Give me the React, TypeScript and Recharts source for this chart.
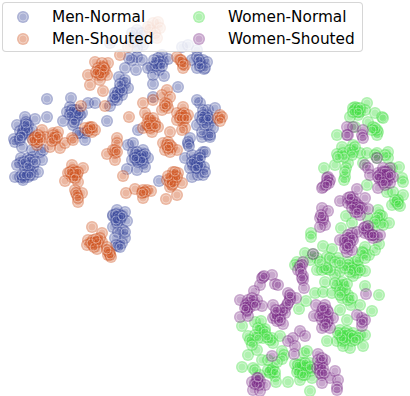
import { ScatterChart, Scatter, XAxis, YAxis } from "recharts";

type Pt = [number, number];

// t-SNE style embedding (arbitrary units)
const menNormal: Pt[] = [
  [-13.6,33.6],[-14.6,33],[-12.6,33],[-13.4,32],[-14.4,31.2],[-19,31],[-12.4,30.6],[-13.6,30],[-13.6,28.2],[-14.6,27.6],
  [-12.6,27.6],[-15.2,28],[-13.8,25.6],[-16,26],[-10.6,26.2],[-9.6,27],[-8.6,28.6],[-8.4,27.2],[-7.4,27.8],[-11.4,26],
  [-9.2,25.6],[-8.2,24.4],[-10.4,22.8],[-10.4,24.6],[-5.4,22.2],[-4.6,30.2],[-3.4,30.6],[-1.6,29.6],[-2.6,27.6],[-1.6,26],
  [-1,27],[-1.6,28.2],[-0.4,27.6],[-0.2,25.8],[0.4,27.2],[0,26],
  [-17.2,24.2],[-16,23],[-15.4,22],[-17,22],[-17.6,20.6],[-16.6,20.6],[-18.4,19.6],[-19,18.4],[-18,21],[-16,23.6],[-17.6,19.6],
  [-31.6,19.8],[-26.8,20],[-27,18.2],[-25.6,17.6],[-26.6,16.6],[-25.6,15.6],[-27.6,17.2],[-28.4,15.4],[-26.4,14.6],[-24.6,17],
  [-23.4,19],[-22,19],[-25,13],[-19.6,15.4],[-24,13],[-26,17.6],[-25,16.6],
  [-37.6,14.6],[-36,16.2],[-34,15.8],[-31.6,16.2],[-35.8,15.2],[-35.4,14.6],[-37,13.4],[-38.2,11.8],[-36.4,13],[-34.6,13.6],
  [-38,11.2],[-37,11.6],[-36,13],[-34.6,12],[-36.6,10.2],[-36.8,8],[-37,7],[-37.6,6.6],[-38,4.2],[-36.4,4],[-35.4,8],[-34.4,8.2],
  [-32.6,7.6],[-33,9.2],[-34.4,6.2],[-35,5.6],[-34.4,4.6],[-33.4,5.2],[-36,6],[-35.4,4.2],[-37,4.2],[-36.4,3.6],[-24,11.6],[-25.4,13],
  [-34.6,9.6],[-32.4,9.6],
  [-15.4,10.6],[-14.4,11],[-12.4,9.6],[-14.4,9.2],[-13.4,8.2],[-11.4,8],[-14.6,7.6],[-12.4,7],[-12,6.2],[-13.6,5.6],[-15.6,5.8],
  [-13,8],[-14,8.6],[-12.4,8.6],[-13.4,7.2],[-9.2,3.4],[-13.4,13.6],[-10.4,20.2],
  [-3.4,10.8],[-0.6,12.2],[-4,8],[-2.6,8.6],[-1.6,7.6],[-2.4,6.6],[-1.4,7],[-2.6,4.2],[-1.4,4.6],[-3,6],[-0.4,9.2],[-0.2,6.2],
  [-1.6,6],[-0.4,4.6],[-1,8.6],[0.6,12.6],[0,9.2],[0,5.2],[1,12.2],[0.6,17.6],[2,18],[0.4,16.6],[1.4,15.6],[0.6,14.6],[1.6,14],
  [1,12.6],[0,16.2],[-1,19],[-1.6,19.6],[-0.4,17.6],[-1,16.2],[-1.6,14.6],[-0.6,13.2],[-3,12],
  [-17.6,-2.4],[-16,-2.8],[-18.4,-3.6],[-17.6,-4],[-17,-4.4],[-15.6,-4.6],[-18.4,-5.8],[-16.4,-6.4],[-17.4,-6.8],[-16,-8],[-18,-8],
  [-17.4,-9.6],[-16.6,-9],[-17.6,-5],[-17,-3.4],[-16,-6.8],[-18.4,-3.4],
  // dense cores, where single points can no longer be told apart
  [-9.4,28],[-9,27.2],[-9.8,26.4],[-8.6,26.4],[-10.2,27.6],[-17.4,21.2],[-16.6,21.6],[-18,20.2],[-17,22.8],
  [-26.6,17.6],[-26,16],[-25.4,17],[-27,16.6],[-26.2,15.2],[-36.2,14],[-35.6,13.6],[-36.6,12.6],[-37,12],[-35.8,14.8],
  [-36.2,7.2],[-35,7.6],[-35.4,6.4],[-34,7.2],[-36.6,4.6],[-36,4.6],[-35,4.6],
  [-13.6,9.2],[-12.8,8.4],[-12,8.8],[-13.6,7.6],[-12.6,7.6],[-14,8],
  [-2,7.6],[-1.6,7],[-2.6,7.2],[-1,6.6],[-1.8,6],[-1,8],
  [-17.8,-3.2],[-17.4,-3.8],[-17,-4],[-17.8,-4.4],[-16.6,-3.6],[-17.8,-9.4],[-17,-9.8],
  [-0.4,16.6],[0.4,15.6],[0,14.6],[-0.6,15.6],[0.6,16],[-3.4,11.2],[-3.2,10.4],[-1.2,27.6],[-1,26.4],
];

const menShouted: Pt[] = [
  [-10.4,35],[-9.4,35.2],[-11,33.6],[-9,34],[-10,33],[-9.6,32],[-15.4,30.2],[-17,28.6],[-11.4,34.2],
  [-22,27.2],[-19.4,27],[-20.6,27],[-23.4,24.6],[-21,25.2],[-20,25.6],[-21.6,24.6],[-19.6,24.6],[-23,22.6],[-20.4,21.4],[-21,23.6],
  [-20.4,26.2],[-21.4,26],[-20,18.4],[-24.8,18.4],[-5.6,28.2],[-4.6,27.2],[-4,26.6],[-5,27.6],[-4.4,26],
  [-7.6,21.6],[-8.6,20.6],[-7,20.2],[-12.4,19],[-8,19],[-7.4,18],[-8.6,17.6],[-15.2,16.2],[-12,17],[-11,15.6],[-11.4,14.6],[-10,15],
  [-9.4,14.2],[-12.4,14],[-10.6,13.2],[-7,13.2],[-10.4,19.6],[-4.4,18.2],[-5.6,17],[-4.6,16.6],[-3.4,16.6],[-4.4,15.2],[-4,14],
  [-5.6,15.6],[-11,14],[-4.6,13.6],[-8.4,11],[-7.4,11.2],[-8,9.6],[-6.6,10.2],[-5.6,9.6],[-7,9.2],
  [-23,14.2],[-24,14],[-22.6,13.2],[-22,13.6],[-34,12.2],[-32.6,13.6],[-30.4,13],[-29.4,13.2],[-32,12.2],[-26.6,12],[-34,11.6],
  [-33,12.2],[-33.6,10.6],[-30,11.6],[-30.4,12.6],[-29,10],[-28,11],[-26.4,11.6],[-31,10.2],
  [-17.6,12],[-17.6,11],[-19.6,8.8],[-18,9],[-18,7.6],[-16.4,4.4],[-18.4,9.6],
  [-26.6,6.6],[-24.4,6],[-26,5.2],[-27.4,5],[-25.6,4.6],[-26.6,4.2],[-28,3.4],[-25.4,3.2],[-26,1.6],[-24.6,1],[-25.6,0.6],[-25.4,-0.8],
  [-15.8,1],[-14,1.8],[-12.4,1.2],[-11.6,1.6],[-10.8,1.4],[-12.4,0],
  [-6.4,5.2],[-5.4,5],[-7.6,3.6],[-6.4,3.6],[-4.6,3],[-7,2.2],[-5.6,0.6],[-7.8,-0.2],[-6.6,2.6],[-6,4.4],
  [-22.6,-5.8],[-20.6,-7],[-23.4,-8.4],[-22,-8.8],[-23.6,-9.4],[-22.4,-9.4],[-20.6,-8.8],[-21.6,-10.2],[-19.6,-9.8],[-19,-11],
  [-19.4,-11.4],[-18.8,-11.8],[-21,-8],[3,16.6],[2.6,16],[3.4,16.2],[3,15.4],
  // dense cores
  [-21,25.6],[-20.4,25.2],[-21.4,25],[-20.8,24.6],[-20.2,26],[-21.8,25.2],
  [-11.4,16],[-10.8,15],[-10.4,16],[-11.6,14.8],[-11.2,14.4],[-10,14.4],
  [-4.8,16.6],[-4.2,17],[-4.4,16],[-5,16],[-3.8,16],[-7.6,18.8],[-8,18.4],
  [-34,12],[-33.6,11.2],[-33,11.6],[-34.4,11.6],[-33.4,12.6],[-30,12],[-30.6,11.4],[-29.6,12.2],
  [-26.4,5.6],[-25.8,5.2],[-26.4,4.6],[-25.4,5.2],[-27,5.2],[-26,4],[-25.8,1],[-25.4,0],
  [-12.4,1.6],[-12,1.2],[-12.6,1],
  [-6.6,4.2],[-6,3.6],[-7,3.2],[-6.4,2.8],[-5.6,4.2],[-7.4,4.4],[-6,5.2],
  [-22.4,-8.4],[-22,-9],[-21.4,-8.8],[-22.8,-9],[-22.2,-9.8],[-21.8,-8.2],
  [-7.6,10.6],[-7,10.6],[-7.4,10],[-19.2,-10.8],[-19,-11.4],[-19.6,-10.4],[-18,9.6],[-17.6,9.2],
  [-23,14],[-23.4,13.4],[-22.6,14.2],[-4.8,27.6],[-4.4,26.8],
];

const womenNormal: Pt[] = [
  [30,18.2],[32.4,19],[31,17.2],[29.6,18],[32,17.6],[30.6,16.6],[29,16.2],[34,17],[35.4,16.2],[35.6,16],[32.6,15.2],[33.6,14.2],
  [34.6,13.2],[26.4,12.6],[34.4,12.6],[30,14.2],[34.4,13.6],[29.6,10.6],[27.4,10.2],[29.6,9.2],[26.4,8.8],[27.6,9],[31,9],[32.4,9],
  [26,6.6],[28.6,7],[23.8,6],[28,4.2],[27.8,3.6],[36.6,9.2],[34.4,9],[34.4,8],[36.6,8],[31.6,7],[37.4,6],[38.8,6.2],[39.4,4],[39.6,3.2],
  [32.4,2.6],[36.4,1.2],[37.6,1.2],[39.6,0.6],[38.6,-0.4],[37.4,-1.4],[39,-1.6],[38.4,-0.8],[28.2,-3.6],[34.6,-2.4],[35.4,-3.6],
  [36.8,-5],[35,-5],[32.6,-4],[29.4,-5],[27.2,-6],[21.2,-7],[21.2,-7.8],[34.8,-9.2],[32,-9.8],[32.8,-11.4],[23.6,-9.6],[25.4,-10.2],
  [20,-11],[24.4,-11.8],[26.6,-12],[30,-12.8],[28.6,-12.8],[18.4,-12.8],[21.6,-11.2],[22.4,-12],[31.4,-10.8],
  [18,-13.4],[22.4,-14.4],[24.4,-14.2],[27,-14.6],[28.6,-13.4],[30.4,-15],[30.6,-13.6],[32,-14.6],[29.6,-15.6],[24,-16.8],[26.4,-17.6],
  [27.6,-17.4],[22,-19],[23.6,-18.8],[25.4,-19],[27.4,-20],[28.6,-19.4],[29.2,-21.4],[31,-21.4],[32,-17.6],[34.8,-19.4],[33.4,-22.6],
  [18.8,-22.2],[20.2,-20.6],[27,-22.4],[28.4,-24.4],
  [27,-26.4],[26.4,-28.6],[28.4,-26.6],[29.6,-27],[27.6,-28.6],[29.4,-28.6],[31,-27.4],[32,-27.4],[31.6,-29.6],[29,-30],[27.6,-29.6],
  [24.4,-28.6],[28.6,-27.6],
  [7.4,-25.6],[10,-24.8],[11.2,-24.6],[12,-26.2],[11,-26.6],[8.6,-27.6],[9.4,-28.6],[11.6,-28],[13.4,-28],[15,-27.6],[13.6,-29],
  [10.4,-30.4],[8.6,-31.4],[15.4,-30.6],[15.8,-31.4],[15.4,-32.2],[11.4,-32.4],[7.4,-33.8],[9.6,-34],[13.4,-34.4],[13,-35],[14,-35.6],
  [14.2,-36.8],[11,-35.4],
  [19.8,-31],[18,-33.2],[19.4,-33],[21,-33],[18.6,-34.4],[19.6,-34.4],[21,-34.6],[19,-36.4],[21.4,-36],[20.4,-30.6],[16.6,-36.8],
  [21,-38.6],[20,-35.4],
  // dense cores
  [30,17.6],[30.4,18],[29.6,17.2],[31,18],[30.6,17.2],[34,14],[33.4,13.6],[29,9.6],[30,10.2],[29.4,8.6],[27.8,8.2],[26.6,8.2],[34,8.6],[36,8.6],
  [38,-0.4],[38.6,-1.2],[28.2,6],[28,5.2],
  [26,-15.4],[27.4,-16.8],[26,-17],[27,-18.4],[28,-18.4],[28.6,-20.4],[29.4,-20],[27,-19.4],[28.4,-17.2],
  [30,-14.4],[29.4,-14],[31,-14.4],[29,-14.8],[28,-14],[25,-14.4],[23.4,-14.4],[24.2,-14],
  [27,-27.4],[28,-27],[29,-27.4],[28,-28.4],[29.4,-27.6],[30.6,-28],[27.4,-28],[26.6,-27],[30,-28.4],
  [11.4,-26.4],[10.6,-26],[12,-26.8],[10,-27.4],[13,-28.4],[12.4,-27.8],[9,-28.4],[10.6,-28],[9.4,-29.4],
  [19,-33.4],[20,-34],[18.6,-33.4],[20.6,-34],[19,-35],[20,-33],[21,-33.8],[18.4,-34.8],[19.6,-35.4],
  [13,-34.8],[13.6,-34],[12.6,-34.4],[14,-34.8],[10,-34.4],[14.4,-32.8],[12.6,-32.4],
  [31.6,-11],[30.6,-12.4],[32,-12],[34,-10.4],[25,-12],[26,-12.8],[23,-12.8],[21,-12.4],[27,-13],
  [35,-3.4],[34.4,-4],[35.6,-5.4],[34,-4.8],[33.4,-6],
];

const womenShouted: Pt[] = [
  [28.4,14.2],[29.6,14.2],[31.6,13.6],[28.6,12.6],[31.4,12.6],[28.4,12.6],[31.6,12],
  [24.6,4.2],[25,3.6],[23.6,2.2],[24.4,3.2],[23.4,2],
  [32,6.6],[32.6,6],[33,4.6],[34.6,5],[35.6,6],[37,6],[36,4.6],[35,3.6],[36.6,3.6],[37.6,4.2],[34.6,2],[36,2.6],[37,3],[36.4,5.2],[35.4,4],[34.4,8],
  [27,-0.6],[28.6,0],[29.6,0.2],[30.4,1.8],[32,0],[29.4,-1],[30.6,-1.4],[31.4,-2],[30,-2.8],[32.6,-2.2],[31,-3.4],[30,-0.8],
  [23.4,-2],[24.6,-2.6],[23,-4],[23.6,-4.4],[24,-5.4],[23,-5.8],
  [32,-5.8],[32.6,-6.4],[33.4,-7.4],[34.4,-7.8],[35,-7.4],[32,-7],[29.4,-7],[30.4,-6.8],[28.6,-8],[29.6,-8.4],[27,-8.4],[28,-9],[28.4,-10.8],[29.4,-10.4],[33.6,-8],
  [21.6,-11.2],[19.6,-12.8],[19.4,-13.4],[18.6,-14.4],[19.6,-15.6],[19.6,-16.4],[19.8,-18],[19,-13.6],
  [11.6,-15.8],[13.4,-15.4],[14,-17.2],[14.6,-17.4],[11,-17.4],[9.8,-18.6],
  [7,-20.4],[8.6,-20.4],[10.4,-20.4],[9.6,-20.8],[8.6,-21.6],[11.4,-21.6],[8.4,-22.6],[7,-23.8],[8.6,-23.6],
  [13.6,-21.4],[16.6,-19],[17,-20],[18.2,-20],[16.4,-21.4],[16,-22],[14.4,-23],[13.6,-24],[15,-23.6],[15.6,-25.2],[14.4,-24.6],[16,-23],
  [22.2,-21.4],[24,-21.4],[21.8,-23.6],[23.4,-22.6],[24.4,-23.6],[24.6,-24.6],[23.4,-26],[25,-26],[25.6,-24],
  [31.4,-24],[30.4,-23.4],[31.4,-25.6],[32.2,-19.2],
  [19,-26.6],[20,-27.6],[17.6,-28],[16.6,-28.6],[18,-29.6],[17.8,-31.2],[22.6,-31.2],[13.4,-31.6],
  [24,-32.4],[23.4,-33],[23,-34.4],[22.4,-34],[23.4,-35.4],[25,-36],[26,-34.6],[23.4,-37],[26.6,-36.4],[26.4,-37.8],[26.4,-38.4],
  [10.4,-37],[11,-36.6],[9.4,-36.8],[12,-37.4],[9.6,-38.4],[11,-38.6],[10.4,-36],
  // dense cores
  [35.6,5.2],[36.2,4.2],[35,4.6],[36,5.2],[36.6,4.4],[35.4,3.6],[34.6,4.2],[37,4.6],[35.8,3],
  [29.4,-0.4],[28.6,-1],[30,-1.4],[30.6,-1.8],[29.4,-2],[31,-2],[30.4,-2.8],[29,0.2],
  [32.6,-6.8],[33,-7.4],[31.8,-6],[33.6,-7.4],[32.6,-5.6],
  [28.6,-7.4],[29.4,-8],[28.4,-8.8],[29,-9],[28,-8.4],[28,-10],[28.6,-9.6],
  [24.4,4],[24.8,3],[24.2,2.6],[23.6,-4],[23.2,-3.4],
  [8.6,-21],[9,-21.8],[8.2,-21.4],[9.4,-20],[8.4,-22.4],[8,-22],[10,-21.4],[11.4,-16],[11.8,-15.6],
  [14.6,-23.4],[15.4,-22.4],[14,-23.6],[15,-24.4],[14.2,-22.4],[17,-20.4],[16.6,-21],
  [23.6,-22.8],[24.4,-22.4],[24,-24],[23.4,-24.4],[24.4,-24.8],[23,-23.6],[24,-25.6],[24.6,-22.8],[23.6,-22],
  [32,-24.4],[31.4,-24.8],
  [23,-33.4],[23.6,-34],[23,-35],[22.6,-32.4],[23.4,-32],[23.8,-35],
  [10.4,-36.8],[10.8,-37.4],[10,-37.2],[10.6,-36],[19.2,-14.8],[19.4,-16],[17,-19.4],
];

const seriesNames = ["Men-Normal", "Men-Shouted", "Women-Normal", "Women-Shouted"];
const seriesColors = ["#3a479c", "#cf5320", "#41dd41", "#7b2d88"];
const seriesPoints = [menNormal, menShouted, womenNormal, womenShouted];

const toRows = (pts: Pt[]) => pts.map(([x, y]) => ({ x, y }));

// filled disc with a thin pale ring inside it
function Marker(props: any) {
  const { cx, cy, fill } = props;
  if (cx == null || cy == null) return null;
  return (
    <g>
      <circle cx={cx} cy={cy} r={6} fill={fill} fillOpacity={0.42} />
      <circle cx={cx} cy={cy} r={4} fill="none" stroke="#fff" strokeOpacity={0.42} strokeWidth={0.9} />
    </g>
  );
}

// the legend sits on top of the points, so it stays out of the chart's own layout
function LegendBox() {
  return (
    <div
      style={{
        boxSizing: "border-box",
        position: "absolute",
        left: 2,
        top: 2,
        width: 361,
        height: 50,
        background: "rgba(255,255,255,0.8)",
        border: "1.3px solid rgba(204,204,204,0.8)",
        borderRadius: 4,
        fontFamily: "DejaVu Sans",
        fontSize: 15.3,
        color: "#000",
      }}
    >
      {seriesNames.map((name, i) => {
        const left = i < 2 ? 0 : 176;
        const top = i % 2 === 0 ? 3 : 25;
        return (
          <div key={name} style={{ position: "absolute", left, top, height: 22, lineHeight: "22px", whiteSpace: "nowrap" }}>
            <svg width={40} height={22} style={{ position: "absolute", left: 10, top: 0 }}>
              <Marker cx={10} cy={11} fill={seriesColors[i]} />
            </svg>
            <span style={{ position: "absolute", left: 49 }}>{name}</span>
          </div>
        );
      })}
    </div>
  );
}

export default function App() {
  return (
    <div style={{ position: "absolute", left: 0, top: 0, width: 410, height: 396, background: "#fff" }}>
      <ScatterChart width={410} height={396} margin={{ top: 0, right: 0, bottom: 0, left: 0 }}>
        <XAxis type="number" dataKey="x" domain={[-41, 41]} hide />
        <YAxis type="number" dataKey="y" domain={[-39.6, 39.6]} hide />
        {seriesNames.map((name, i) => (
          <Scatter
            key={name}
            name={name}
            data={toRows(seriesPoints[i])}
            fill={seriesColors[i]}
            shape={Marker}
            isAnimationActive={false}
          />
        ))}
      </ScatterChart>
      <LegendBox />
    </div>
  );
}
